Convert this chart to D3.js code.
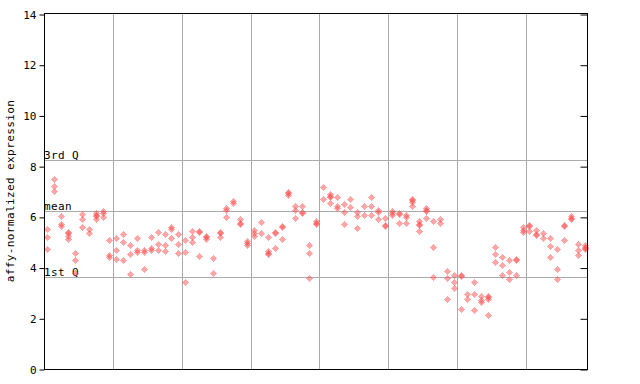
<!DOCTYPE html>
<html>
<head>
<meta charset="utf-8">
<script src="https://cdn.jsdelivr.net/npm/d3@7"></script>
<style>
  body { margin: 0; background: #fff; }
  text { font-family: "DejaVu Sans Mono", monospace; }
</style>
</head>
<body>
<div id="chart"></div>
<script>
// expression values per sample (several probes each)
var samples = [
	[5.51, 5.19, 4.73], [7.49, 7.22, 7.02], [6.02, 5.72, 5.64], [5.40, 5.36, 5.24, 5.13],
	[4.56, 4.29, 3.80], [6.11, 5.90, 5.59], [5.53, 5.35], [6.15, 6.08, 6.04, 5.90],
	[6.23, 6.14, 5.98], [5.09, 4.48, 4.43],
	[5.15, 4.69, 4.32], [5.31, 5.00, 4.29], [4.88, 4.52, 3.73], [5.15, 4.68, 4.60],
	[4.68, 4.60, 3.94], [5.19, 4.76, 4.68], [5.39, 4.92, 4.68], [5.31, 4.88, 4.64],
	[5.59, 5.51, 5.15], [5.31, 4.92, 4.56],
	[5.07, 4.60, 3.42], [5.43, 5.19, 5.00], [5.44, 5.40, 4.44], [5.24, 5.20, 5.11],
	[4.36, 3.77], [5.40, 5.36, 5.22], [6.35, 6.26, 5.98], [6.62, 6.53],
	[5.90, 5.76, 5.72], [5.03, 4.96, 4.88],
	[5.47, 5.35, 5.23], [5.78, 5.35], [5.19, 4.64, 4.58, 4.54], [5.41, 5.37, 4.76],
	[5.63, 5.59, 5.11], [6.98, 6.94, 6.86], [6.41, 6.26, 5.94], [6.41, 6.20, 6.16],
	[4.88, 4.56, 3.58], [5.84, 5.76, 5.72],
	[7.16, 6.69], [6.89, 6.83, 6.79, 6.53], [6.77, 6.41, 6.34], [6.49, 6.18, 5.71],
	[6.69, 6.38], [6.18, 6.02, 5.55], [6.41, 6.06], [6.77, 6.41, 6.06],
	[6.26, 6.18, 5.90], [5.94, 5.66, 5.62],
	[6.22, 6.14, 6.06], [6.14, 6.10, 5.74], [6.06, 5.98, 5.74], [6.72, 6.68, 6.60, 6.41],
	[5.82, 5.73, 5.69, 5.43], [6.34, 6.28, 6.24, 5.94], [5.82, 4.80, 3.63], [5.90, 5.74],
	[3.85, 3.58, 2.75], [3.69, 3.42, 3.18],
	[3.69, 3.65, 2.35], [2.94, 2.75], [3.42, 2.94, 2.31], [2.86, 2.71, 2.63],
	[2.88, 2.84, 2.75, 2.12], [4.80, 4.52, 4.21], [4.40, 4.09, 3.69], [4.29, 3.81, 3.54],
	[4.34, 4.30, 3.69], [5.59, 5.47, 5.39],
	[5.69, 5.65, 5.43], [5.49, 5.33, 5.29], [5.35, 5.15], [5.15, 4.84, 4.40],
	[4.72, 3.93, 3.54], [5.69, 5.65, 5.07], [6.04, 5.96, 5.92], [4.92, 4.68, 4.48],
	[4.88, 4.82, 4.78, 4.72]
];
var groupSize = 10;
var refNames = ['3rd Q', 'mean', '1st Q'];
var refValues = [8.23, 6.22, 3.63];
var yTicks = [0, 2, 4, 6, 8, 10, 12, 14];

var svg = d3.select('#chart').append('svg').attr('width', 640).attr('height', 384);

var xScale = d3.scaleBand()
	.domain(d3.range(samples.length))
	.range([44, 588]);

var yScale = d3.scaleLinear()
	.domain([0, 14])
	.range([369, 14]);

var defs = svg.append('defs');
var pat = defs.append('pattern')
	.attr('id', 'checker')
	.attr('patternUnits', 'userSpaceOnUse')
	.attr('width', 2).attr('height', 2);
pat.append('rect').attr('x', 0).attr('y', 0).attr('width', 1).attr('height', 1).attr('fill', '#ff4d4d');
pat.append('rect').attr('x', 1).attr('y', 1).attr('width', 1).attr('height', 1).attr('fill', '#ff4d4d');

// group separators
svg.append('g')
	.selectAll('line')
	.data(d3.range(groupSize, samples.length, groupSize))
	.enter()
	.append('line')
	.attr('x1', function(d) { return Math.round(xScale(d)) + 0.5; })
	.attr('x2', function(d) { return Math.round(xScale(d)) + 0.5; })
	.attr('y1', yScale(14))
	.attr('y2', yScale(0))
	.attr('stroke', '#aaaaaa');

// quartile / mean lines
svg.append('g')
	.selectAll('line')
	.data(refValues)
	.enter()
	.append('line')
	.attr('x1', 44)
	.attr('x2', 588)
	.attr('y1', function(d) { return Math.round(yScale(d)) + 0.5; })
	.attr('y2', function(d) { return Math.round(yScale(d)) + 0.5; })
	.attr('stroke', '#aaaaaa');

svg.append('g')
	.selectAll('text')
	.data(refValues)
	.enter()
	.append('text')
	.attr('x', 44)
	.attr('y', function(d) { return Math.round(yScale(d)) - 1; })
	.attr('font-size', 11)
	.attr('letter-spacing', 0.4)
	.text(function(d, i) { return refNames[i]; });

// points
var pts = [];
samples.forEach(function(vals, i) {
	vals.forEach(function(v) { pts.push({ i: i, v: v }); });
});

svg.append('g')
	.selectAll('path')
	.data(pts)
	.enter()
	.append('path')
	.attr('d', 'M0,-3.6L3.6,0L0,3.6L-3.6,0Z')
	.attr('transform', function(d) {
		var cx = Math.round(xScale(d.i) + xScale.bandwidth() / 2);
		var cy = Math.round(yScale(d.v));
		return 'translate(' + (cx + 0.5) + ',' + (cy + 0.5) + ')';
	})
	.attr('fill', 'url(#checker)')
	.attr('shape-rendering', 'crispEdges');

// frame and axes
svg.append('rect')
	.attr('x', 44.5).attr('y', 13.5)
	.attr('width', 543).attr('height', 356)
	.attr('fill', 'none')
	.attr('stroke', '#000');

var yAxis = d3.axisLeft(yScale).tickValues(yTicks).tickSize(5).tickPadding(3);
var yAxisG = svg.append('g')
	.attr('transform', 'translate(44.5,0.5)')
	.call(yAxis);
yAxisG.select('.domain').remove();
yAxisG.selectAll('text').attr('font-family', '"DejaVu Sans Mono", monospace').attr('font-size', 11);

var rAxis = d3.axisLeft(yScale).tickValues(yTicks).tickSize(7).tickFormat('');
var rAxisG = svg.append('g')
	.attr('transform', 'translate(587.5,0.5)')
	.call(rAxis);
rAxisG.select('.domain').remove();

svg.append('text')
	.attr('transform', 'translate(14,191) rotate(-90)')
	.attr('text-anchor', 'middle')
	.attr('font-size', 11)
	.attr('letter-spacing', 0.4)
	.text('affy-normalized expression');
</script>
</body>
</html>
